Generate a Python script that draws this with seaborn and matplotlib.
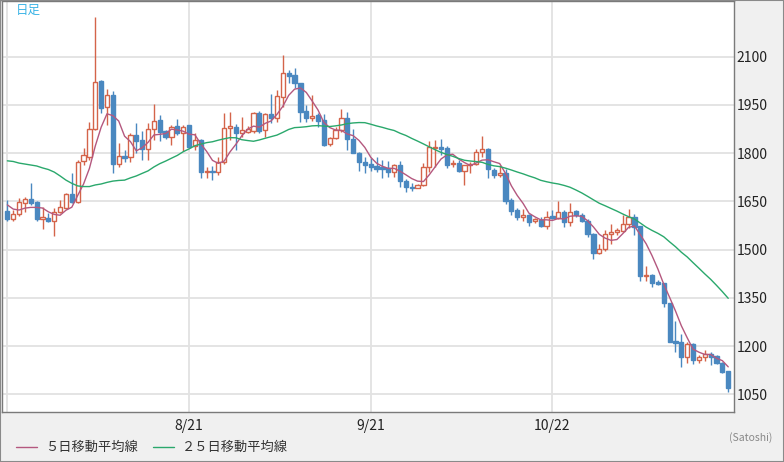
import numpy as np
import pandas as pd
import matplotlib
matplotlib.use("Agg")
import matplotlib.pyplot as plt
import seaborn as sns
from matplotlib.lines import Line2D
from matplotlib.patches import Rectangle

# ---- data (daily candles from 7/21 to 11/21) ----
opens = [1620, 1595, 1611, 1645, 1657, 1648, 1595, 1598, 1589, 1617,
         1629, 1673, 1648, 1776, 1788, 1875, 2024, 1944, 1981, 1766,
         1791, 1788, 1856, 1841, 1813, 1875, 1903, 1869, 1850, 1884,
         1863, 1888, 1822, 1841, 1741, 1745, 1741, 1772, 1878, 1881,
         1863, 1866, 1869, 1925, 1872, 1922, 1909, 1975, 2049, 2043,
         2018, 1931, 1909, 1919, 1903, 1828, 1847, 1872, 1909, 1844,
         1800, 1772, 1766, 1760, 1757, 1754, 1741, 1763, 1713, 1695,
         1692, 1701, 1757, 1816, 1819, 1816, 1766, 1769, 1745, 1763,
         1766, 1804, 1813, 1748, 1732, 1738, 1654, 1623, 1601, 1608,
         1589, 1592, 1573, 1604, 1598, 1617, 1586, 1620, 1608, 1589,
         1549, 1489, 1502, 1549, 1555, 1558, 1580, 1601, 1573, 1418,
         1421, 1399, 1396, 1334, 1216, 1213, 1166, 1206, 1157, 1166,
         1175, 1169, 1147, 1122]
highs = [1654, 1623, 1660, 1664, 1707, 1650, 1632, 1614, 1629, 1654,
         1676, 1738, 1779, 1816, 1897, 2223, 2026, 2000, 1993, 1832,
         1810, 1863, 1894, 1869, 1894, 1953, 1919, 1872, 1888, 1906,
         1888, 1888, 1863, 1844, 1757, 1760, 1788, 1925, 1928, 1891,
         1912, 1884, 1928, 1931, 1925, 1984, 1996, 2105, 2059, 2065,
         2018, 1950, 1981, 1925, 1922, 1850, 1881, 1937, 1928, 1875,
         1804, 1788, 1785, 1788, 1779, 1776, 1766, 1776, 1720, 1707,
         1704, 1769, 1838, 1841, 1844, 1822, 1779, 1779, 1763, 1772,
         1813, 1853, 1816, 1754, 1763, 1751, 1660, 1629, 1626, 1611,
         1598, 1601, 1620, 1623, 1651, 1623, 1645, 1623, 1614, 1595,
         1552, 1517, 1561, 1580, 1567, 1608, 1626, 1611, 1573, 1449,
         1424, 1405, 1396, 1334, 1278, 1238, 1213, 1210, 1172, 1188,
         1182, 1172, 1150, 1122]
lows = [1589, 1589, 1605, 1617, 1639, 1589, 1564, 1586, 1542, 1614,
        1626, 1645, 1645, 1763, 1779, 1872, 1925, 1888, 1738, 1757,
        1772, 1772, 1800, 1779, 1779, 1841, 1838, 1844, 1825, 1856,
        1807, 1819, 1810, 1723, 1723, 1716, 1732, 1766, 1841, 1810,
        1850, 1863, 1863, 1863, 1850, 1894, 1897, 1944, 2018, 2003,
        1897, 1897, 1900, 1881, 1822, 1822, 1844, 1866, 1810, 1800,
        1745, 1738, 1745, 1741, 1723, 1726, 1726, 1695, 1679, 1682,
        1690, 1698, 1741, 1757, 1794, 1754, 1757, 1741, 1701, 1738,
        1763, 1788, 1723, 1723, 1726, 1642, 1608, 1592, 1589, 1573,
        1583, 1570, 1564, 1595, 1595, 1570, 1573, 1601, 1586, 1539,
        1471, 1486, 1496, 1517, 1545, 1555, 1567, 1545, 1402, 1402,
        1384, 1390, 1322, 1213, 1182, 1135, 1147, 1144, 1147, 1154,
        1141, 1144, 1116, 1057]
closes = [1595, 1611, 1648, 1657, 1645, 1595, 1601, 1589, 1617, 1632,
          1673, 1648, 1772, 1794, 1875, 2021, 1940, 1981, 1766, 1791,
          1785, 1856, 1838, 1813, 1875, 1900, 1866, 1850, 1881, 1863,
          1881, 1819, 1841, 1741, 1745, 1741, 1772, 1878, 1884, 1863,
          1872, 1875, 1925, 1869, 1922, 1909, 1978, 2049, 2040, 2018,
          1928, 1909, 1916, 1900, 1825, 1847, 1872, 1909, 1844, 1800,
          1772, 1763, 1757, 1751, 1751, 1741, 1763, 1713, 1695, 1692,
          1701, 1757, 1819, 1819, 1813, 1763, 1769, 1745, 1763, 1766,
          1804, 1813, 1751, 1732, 1738, 1651, 1620, 1601, 1608, 1586,
          1595, 1573, 1601, 1598, 1617, 1586, 1617, 1608, 1589, 1549,
          1489, 1502, 1549, 1555, 1561, 1580, 1601, 1570, 1418, 1421,
          1396, 1393, 1334, 1213, 1210, 1166, 1206, 1157, 1166, 1175,
          1166, 1147, 1119, 1070]
# moving-average values read off the chart where earlier closes are not visible
ma5_head = [1639, 1626, 1623, 1629]
ma25_head = [1776, 1774, 1769, 1766, 1763, 1760, 1754, 1749, 1741, 1729,
             1716, 1706, 1698, 1696, 1696, 1701, 1704, 1709, 1713, 1715,
             1716, 1723, 1729, 1737]
tick_days = [0, 31, 62, 93]
tick_labels = ["", "8/21", "9/21", "10/22"]
y_ticks = [1050, 1200, 1350, 1500, 1650, 1800, 1950, 2100]
legend_labels = ["５日移動平均線", "２５日移動平均線"]

# ---- style ----
sns.set_style("white")
plt.rcParams['font.family'] = ['Noto Sans CJK JP', 'DejaVu Sans']

UP = "#d4644a"
DOWN = "#4a88c0"
MA5_C = "#b4587f"
MA25_C = "#2aa86c"
GRID = "#e2e2e2"

df = pd.DataFrame({"day": np.arange(len(closes)), "open": opens, "high": highs,
                   "low": lows, "close": closes})
df["ma5"] = df["close"].rolling(5).mean()
df.loc[:len(ma5_head) - 1, "ma5"] = ma5_head
df["ma25"] = df["close"].rolling(25).mean()
df.loc[:len(ma25_head) - 1, "ma25"] = ma25_head
up = df["close"] >= df["open"]

fig = plt.figure(figsize=(7.84, 4.62), dpi=100, facecolor="#f0f0f0")
ax = fig.add_axes([1.5 / 784, 1 - 412 / 462, 732 / 784, 411 / 462])
ax.set_facecolor("white")

# grid
for d in tick_days:
    ax.axvline(d, color=GRID, lw=1.3, zorder=0)
for v in y_ticks:
    ax.axhline(v, color=GRID, lw=1.3, zorder=0)

# candles
colors = np.where(up, UP, DOWN)
ax.vlines(df["day"], df["low"], df["high"], colors=colors, lw=1.0, zorder=2)
body_bottom = np.minimum(df["open"], df["close"])
body_h = np.maximum(np.abs(df["close"] - df["open"]), 1.5)
ax.bar(df["day"], body_h, bottom=body_bottom, width=0.72,
       color=np.where(up, "white", DOWN), edgecolor=colors, linewidth=1.0, zorder=3)

# moving averages
sns.lineplot(data=df, x="day", y="ma5", ax=ax, color=MA5_C, lw=1.0, zorder=4, legend=False)
sns.lineplot(data=df, x="day", y="ma25", ax=ax, color=MA25_C, lw=1.0, zorder=4, legend=False)

ax.set_xlim(-1.0, 123.9)
ax.set_ylim(995, 2273)
ax.set_xlabel("")
ax.set_ylabel("")
ax.set_xticks(tick_days)
ax.set_xticklabels(tick_labels)
ax.yaxis.tick_right()
ax.set_yticks(y_ticks)
ax.set_yticklabels([str(v) for v in y_ticks])
ax.tick_params(axis="y", length=0, pad=2, labelsize=10, colors="#222222")
ax.tick_params(axis="x", length=0, pad=5, labelsize=10, colors="#222222")
for s in ax.spines.values():
    s.set_color("#7a7a7a")
    s.set_linewidth(1.0)

# labels
fig.text(16 / 784, 1 - 10.5 / 462, "日足", color="#3cb4e6", fontsize=9, va="center")
fig.text(772 / 784, 1 - 437.5 / 462, "(Satoshi)", ha="right", va="center",
         fontsize=7.5, color="#888888")

# legend
ly = 1 - 447 / 462
fig.add_artist(Line2D([16 / 784, 37 / 784], [ly, ly], color=MA5_C, lw=1.0,
                      transform=fig.transFigure))
fig.text(45 / 784, ly, legend_labels[0], va="center", fontsize=9.5, color="#333333")
fig.add_artist(Line2D([153 / 784, 174 / 784], [ly, ly], color=MA25_C, lw=1.0,
                      transform=fig.transFigure))
fig.text(182 / 784, ly, legend_labels[1], va="center", fontsize=9.5, color="#333333")

fig.add_artist(Rectangle((0, 0), 1, 1, transform=fig.transFigure, fill=False,
                         edgecolor="#8a8a8a", lw=1.5))

fig.savefig("out.png", dpi=100, facecolor=fig.get_facecolor())
